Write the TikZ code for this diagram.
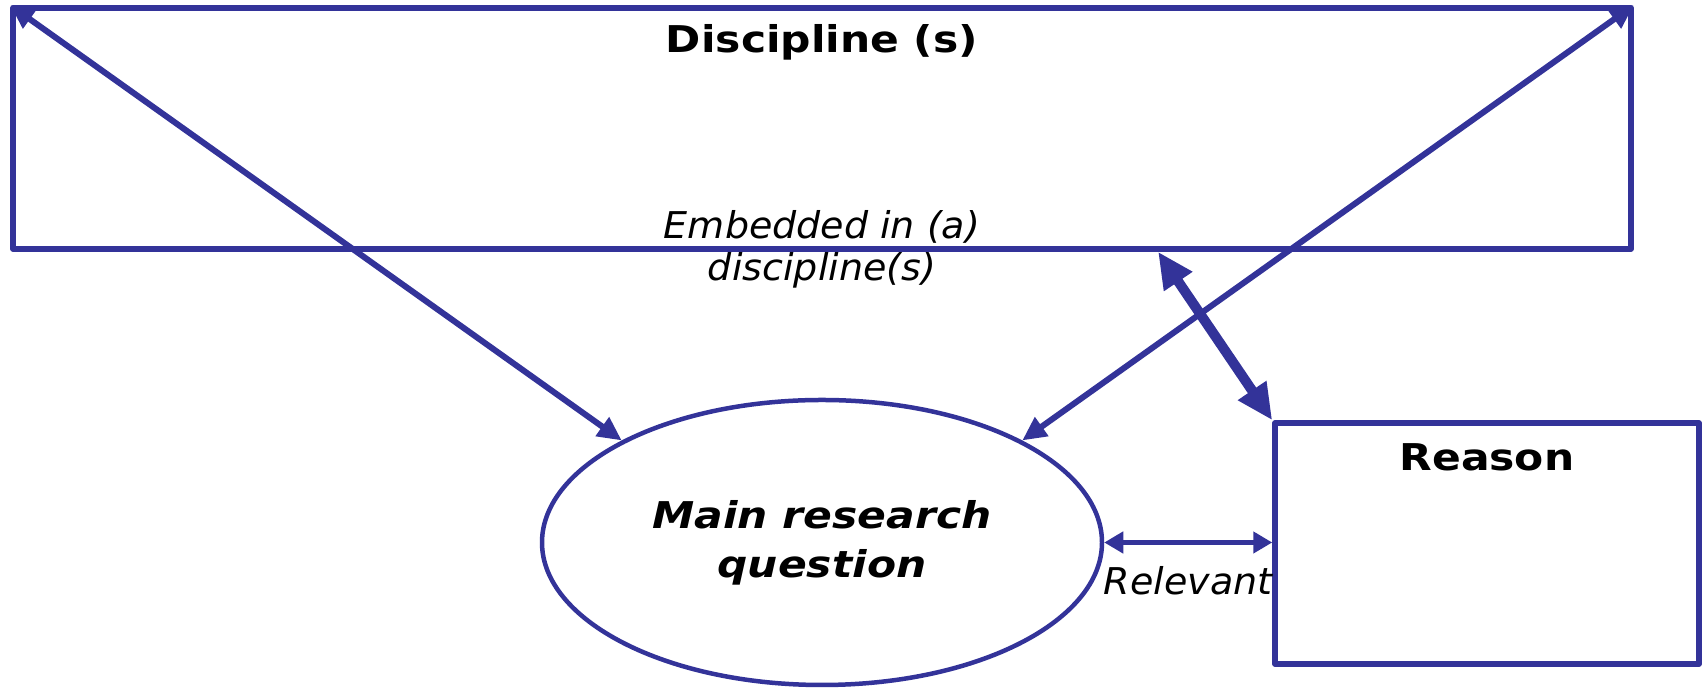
\documentclass[tikz,border=0pt]{standalone}
\usepackage{fontspec}
\setmainfont{DejaVu Sans}
\newfontfamily\widebold[FakeStretch=1.15]{DejaVu Sans}
\newfontfamily\wideital[FakeStretch=1.03]{DejaVu Sans}
\usetikzlibrary{arrows.meta,calc,shapes.geometric}
\definecolor{boxblue}{RGB}{51,51,153}
\tikzset{
	frame/.style={draw=boxblue, line width=0.55mm, line join=round, inner sep=0pt},
	title/.style={font=\widebold\bfseries\fontsize{10.5}{12}\selectfont, inner sep=0pt},
	remark/.style={text=black, font=\wideital\itshape\fontsize{10.5}{12}\selectfont, align=center},
	link/.style={boxblue, line width=0.6mm, >={Triangle[length=2.4mm,width=2.2mm]}},
	strong/.style={boxblue, line width=1.0mm, >={Triangle[length=3.6mm,width=3.2mm]}}
}

\begin{document}
\begin{tikzpicture}
		%%%%% START %%%%%
		\useasboundingbox (0, 0) rectangle (17.05, -6.88);
		
		\node[frame, minimum width=16.18cm, minimum height=2.41cm] (disc) at (8.22, -1.285) {};
		\node[frame, ellipse, line width=0.45mm, minimum width=5.6cm, minimum height=2.85cm,
			font=\widebold\bfseries\itshape\fontsize{10.5}{14}\selectfont, align=center] (mrq) at (8.22, -5.425) {Main research\\question};
		\node[frame, minimum width=4.24cm, minimum height=2.41cm] (reason) at (14.87, -5.435) {};
		
		\draw[link, <->] (disc.north west) -- (mrq.153);
		\draw[link, <->] (disc.north east) -- (mrq.27);
		\draw[strong, <->] ($(disc.south west)!0.707!(disc.south east)$) -- (reason.north west);
		\draw[link, line width=0.45mm, >={Triangle[length=1.9mm,width=2.1mm]}, <->] (mrq.east) -- (mrq.east -| reason.west)
			node[midway, below=0.1cm, remark] (relevant) {Relevant};
		
		\node[title, anchor=base] (disctitle) at (8.22, -0.53) {Discipline (s)};
		\node[title, anchor=base] (reasontitle) at (14.87, -4.71) {Reason};
		\node[remark] (embedded) at (8.22, -2.49) {Embedded in (a)\\discipline(s)};
		%%%%% END %%%%%
\end{tikzpicture}
\end{document}
